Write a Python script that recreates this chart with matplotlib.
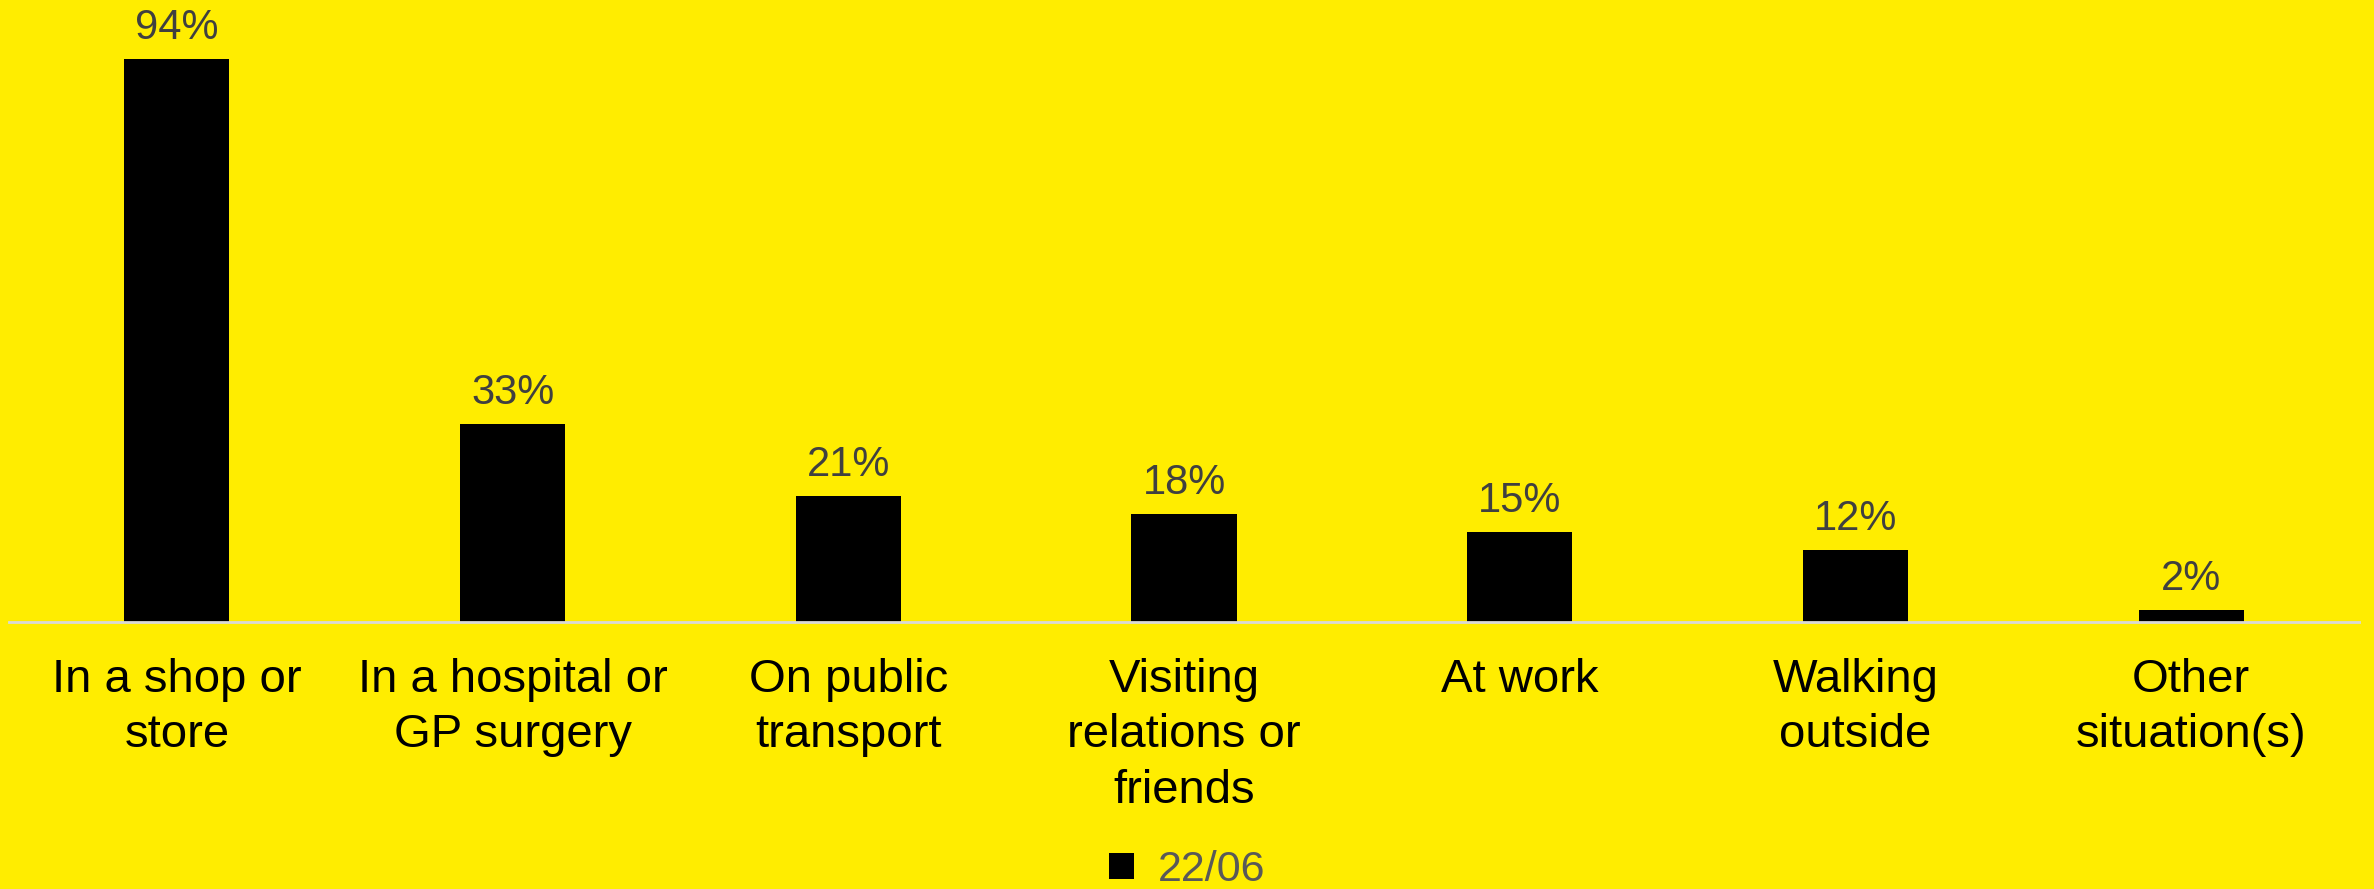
import matplotlib
matplotlib.use("Agg")
import matplotlib.pyplot as plt

plt.rcParams["font.family"] = ["Liberation Sans", "DejaVu Sans"]

# where people wore a face covering
categories = [
    "In a shop or\nstore",
    "In a hospital or\nGP surgery",
    "On public\ntransport",
    "Visiting\nrelations or\nfriends",
    "At work",
    "Walking\noutside",
    "Other\nsituation(s)",
]
values = [94, 33, 21, 18, 15, 12, 2]
series_name = "22/06"

BG = "#FFED00"

fig = plt.figure(figsize=(23.74, 8.89), dpi=100, facecolor=BG)
ax = fig.add_axes([9 / 2374, 1 - 622 / 889, 2350 / 2374, 622 / 889])
ax.set_facecolor(BG)

x = range(len(categories))
bars = ax.bar(x, values, width=0.313, color="black", label=series_name)

for b, v in zip(bars, values):
    ax.annotate(f"{v}%", (b.get_x() + b.get_width() / 2, v),
                xytext=(0, 8), textcoords="offset points",
                ha="center", va="bottom", fontsize=30, color="#404040")

ax.set_xlim(-0.5, len(categories) - 0.5)
ax.set_ylim(0, 103.8)
ax.set_xticks(list(x))
ax.set_xticklabels(categories, fontsize=34, color="black", linespacing=1.33)
ax.tick_params(axis="x", length=0, pad=26)
ax.set_yticks([])

for s in ["top", "right", "left"]:
    ax.spines[s].set_visible(False)
ax.spines["bottom"].set_color("#D9D9D9")
ax.spines["bottom"].set_linewidth(2)

fig.legend(handles=[bars], labels=[series_name], loc="lower center",
           bbox_to_anchor=(0.5, -0.045), frameon=False, fontsize=31,
           labelcolor="#595959", handlelength=0.58, handleheight=0.58,
           handletextpad=0.55)

fig.savefig("out.png", dpi=100, facecolor=BG)
